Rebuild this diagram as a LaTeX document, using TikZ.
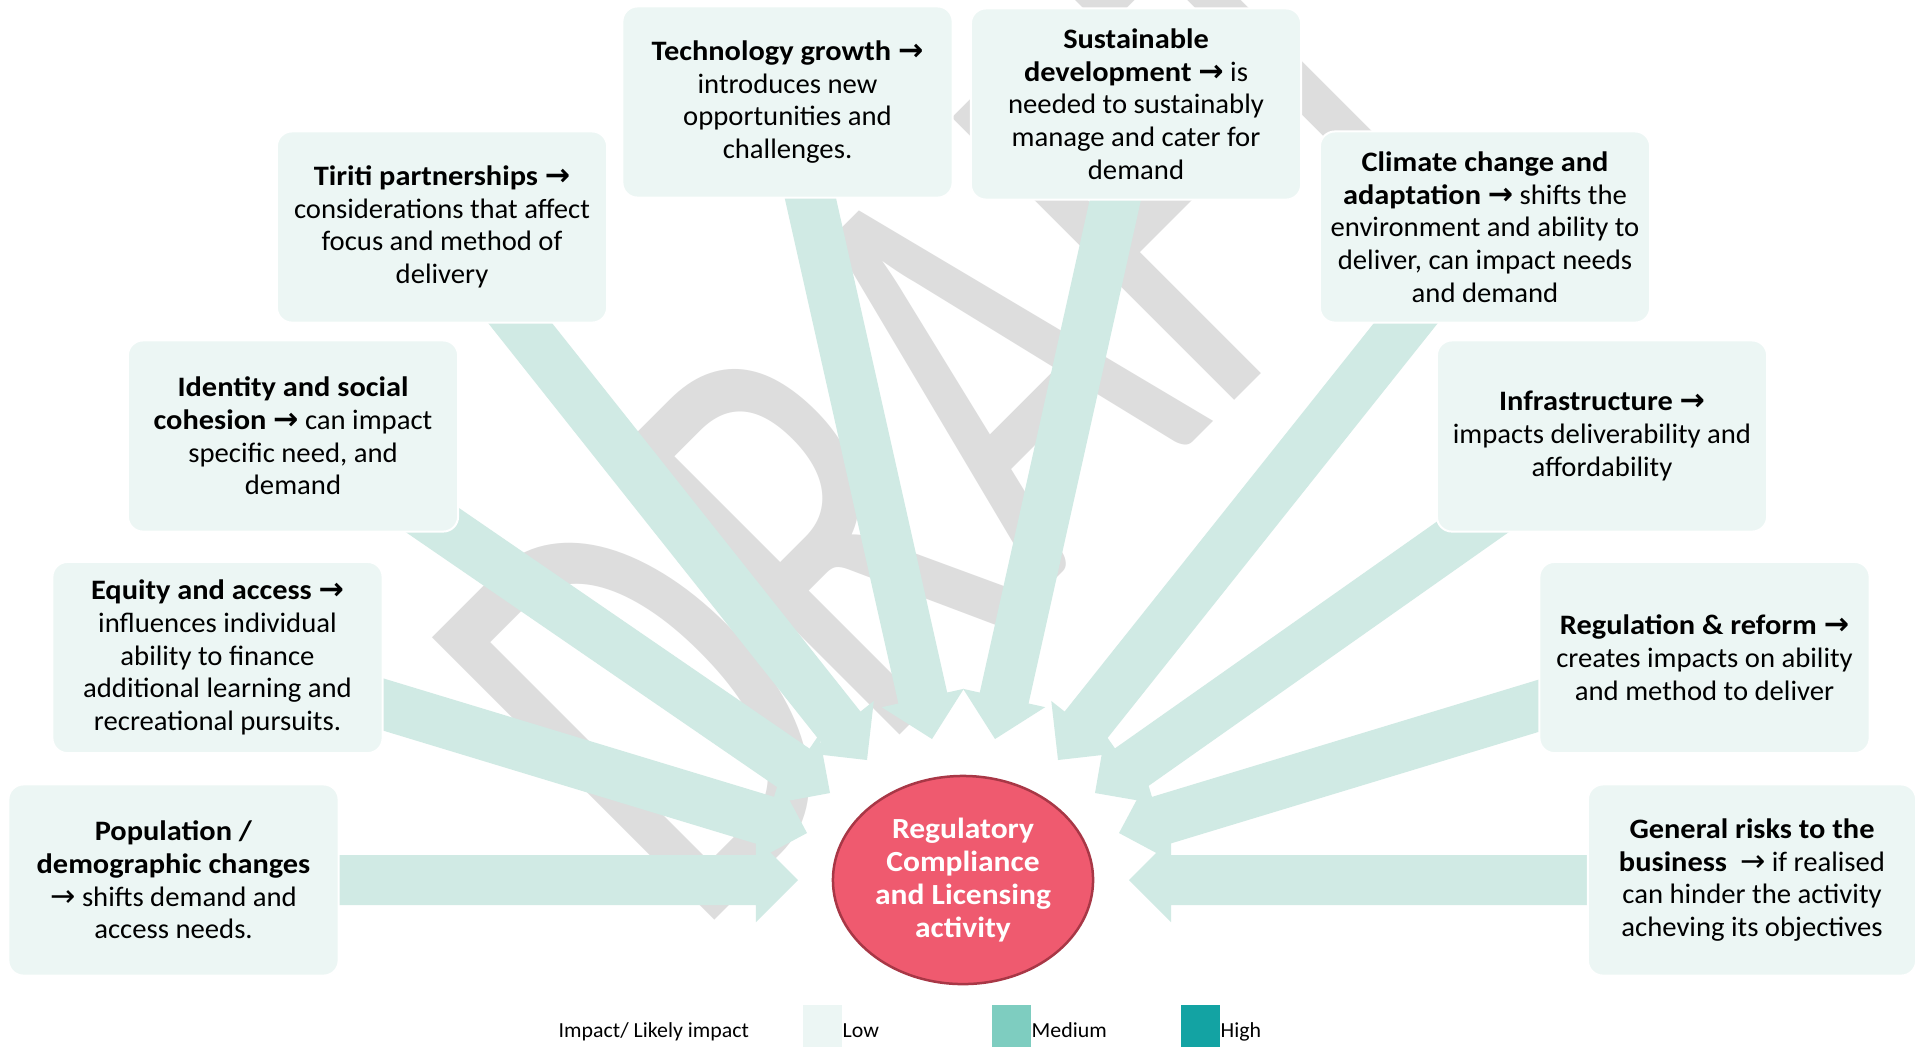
\documentclass[tikz,border=0pt]{standalone}
\usepackage{fontspec}
\setmainfont{Carlito}[FakeStretch=1.02,BoldFeatures={FakeStretch=1.08}]
\newfontfamily\arrfont{DejaVu Sans}
\usetikzlibrary{calc,shapes.geometric}
\definecolor{boxc}{RGB}{236,246,244}
\definecolor{arrowc}{RGB}{208,234,228}
\definecolor{elc}{RGB}{239,90,111}
\definecolor{elb}{RGB}{168,55,70}
\definecolor{wmc}{RGB}{221,221,221}
\definecolor{medc}{RGB}{126,205,192}
\definecolor{highc}{RGB}{19,163,163}
\newcommand\rarr{{\arrfont\fontsize{8.6pt}{9.3pt}\selectfont →}}
\newcommand\blockarrow[2]{%
  \coordinate (bab) at ($(#2)!0.42cm!(#1)$);
  \fill[arrowc] ($(#1)!0.25cm!90:(#2)$) -- ($(bab)!0.25cm!-90:(#1)$) -- ($(bab)!0.42cm!-90:(#1)$) -- (#2) -- ($(bab)!0.42cm!90:(#1)$) -- ($(bab)!0.25cm!90:(#1)$) -- ($(#1)!0.25cm!-90:(#2)$) -- cycle;}
\begin{document}
\begin{tikzpicture}[x=0.01cm,y=-0.01cm,
  box/.style={rectangle, rounded corners=0.15cm, fill=boxc, draw=white, line width=0.02cm,
    minimum width=3.3cm, minimum height=1.91cm, inner sep=0, align=center,
    font=\fontsize{8pt}{9.3pt}\selectfont},
  ell/.style={ellipse, minimum width=2.6cm, minimum height=2.08cm, inner sep=0,
    fill=elc, draw=elb, line width=0.025cm, text=white, align=center,
    font=\bfseries\fontsize{8.3pt}{9.4pt}\selectfont},
  wm/.style={anchor=base west, rotate=45, inner sep=0, text=wmc,
    font=\fontsize{118pt}{125pt}\selectfont},
  sq/.style={rectangle, inner sep=0, minimum width=0.39cm, minimum height=0.42cm},
  lg/.style={anchor=base west, inner sep=0, font=\fontsize{6.1pt}{7pt}\selectfont}]
\useasboundingbox (0,0) rectangle (1916,1047);
\fill[white] (0,0) rectangle (1916,1047);
% watermark
\node[wm] (draft) at (694,941) {\scalebox{1}[1.5]{DRAFT}};
% arrow coordinates
\coordinate (s1) at (330,880);  \coordinate (t1) at (798,880);
\coordinate (s2) at (352,695);  \coordinate (t2) at (807,833);
\coordinate (s3) at (409,504);  \coordinate (t3) at (830,793);
\coordinate (s4) at (497,294);  \coordinate (t4) at (867,760);
\coordinate (s5) at (802,161);  \coordinate (t5) at (932,739);
\coordinate (s6) at (1124,161); \coordinate (t6) at (995,739);
\coordinate (s7) at (1429,294); \coordinate (t7) at (1058,760);
\coordinate (s8) at (1501,507); \coordinate (t8) at (1095,793);
\coordinate (s9) at (1574,695); \coordinate (t9) at (1119,833);
\coordinate (s10) at (1596,880); \coordinate (t10) at (1129,880);
\blockarrow{s1}{t1}
\blockarrow{s2}{t2}
\blockarrow{s3}{t3}
\blockarrow{s4}{t4}
\blockarrow{s5}{t5}
\blockarrow{s6}{t6}
\blockarrow{s7}{t7}
\blockarrow{s8}{t8}
\blockarrow{s9}{t9}
\blockarrow{s10}{t10}
% boxes
\node[box] (pop) at (173.5,880) {\textbf{Population /}\\\textbf{demographic changes}\\\rarr{} shifts demand and\\access needs.};
\node[box] (equ) at (217.5,657.5) {\textbf{Equity and access \rarr}\\influences individual\\ability to finance\\additional learning and\\recreational pursuits.};
\node[box] (ide) at (293,436) {\textbf{Identity and social}\\\textbf{cohesion \rarr} can impact\\specific need, and\\demand};
\node[box] (tir) at (442,227) {\textbf{Tiriti partnerships \rarr}\\considerations that affect\\focus and method of\\delivery};
\node[box] (tec) at (787.5,102) {\textbf{Technology growth \rarr}\\introduces new\\opportunities and\\challenges.};
\node[box] (sus) at (1136,104) {\textbf{Sustainable}\\\textbf{development \rarr} is\\needed to sustainably\\manage and cater for\\demand};
\node[box] (cli) at (1485,227) {\textbf{Climate change and}\\\textbf{adaptation \rarr} shifts the\\environment and ability to\\deliver, can impact needs\\and demand};
\node[box] (inf) at (1602,436) {\textbf{Infrastructure \rarr}\\impacts deliverability and\\affordability};
\node[box] (reg) at (1704.5,657.5) {\textbf{Regulation \& reform \rarr}\\creates impacts on ability\\and method to deliver};
\node[box, minimum width=3.28cm] (gen) at (1752,880) {\textbf{General risks to the}\\\textbf{business} \ \rarr{} if realised\\can hinder the activity\\acheving its objectives};
% centre
\node[ell] (core) at (963,880) {Regulatory\\Compliance\\and Licensing\\activity};
% legend
\node[lg] (lgt) at (558,1037) {Impact/ Likely impact};
\node[sq, fill=boxc] (lowsq) at (822.5,1026) {};
\node[sq, fill=medc] (medsq) at (1011.5,1026) {};
\node[sq, fill=highc] (highsq) at (1200.5,1026) {};
\node[lg] (lowl) at (842,1037) {Low};
\node[lg] (medl) at (1031,1037) {Medium};
\node[lg] (highl) at (1220,1037) {High};
\end{tikzpicture}
\end{document}
